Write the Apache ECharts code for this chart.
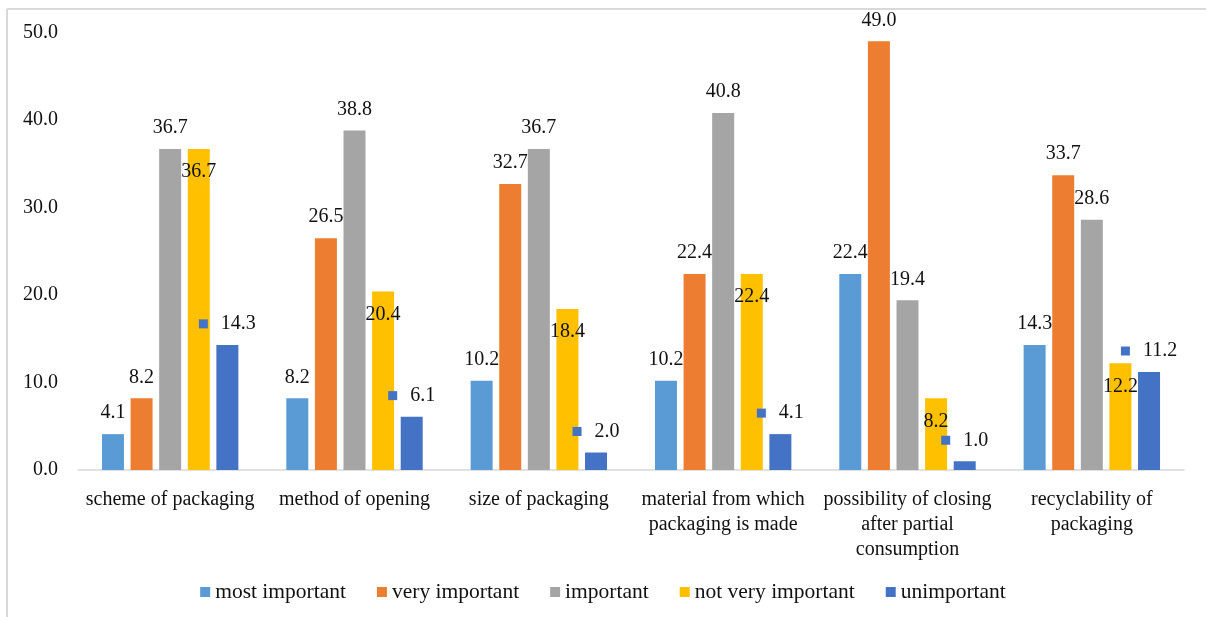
<!DOCTYPE html>
<html>
<head>
<meta charset="utf-8">
<script src="https://cdn.jsdelivr.net/npm/echarts@6/dist/echarts.min.js"></script>
<style>
  html, body { margin: 0; padding: 0; background: #fff; }
  #chart { width: 1206px; height: 617px; }
</style>
</head>
<body>
<div id="chart"></div>
<script>
// Packaging attributes rated by importance (% of respondents)
const categories = [
  'scheme of packaging',
  'method of opening',
  'size of packaging',
  'material from which\npackaging is made',
  'possibility of closing\nafter partial\nconsumption',
  'recyclability of\npackaging'
];
const seriesNames = ['most important', 'very important', 'important', 'not very important', 'unimportant'];
const mostImportant = [4.1, 8.2, 10.2, 10.2, 22.4, 14.3];
const veryImportant = [8.2, 26.5, 32.7, 22.4, 49.0, 33.7];
const important = [36.7, 38.8, 36.7, 40.8, 19.4, 28.6];
const notVeryImportant = [36.7, 20.4, 18.4, 22.4, 8.2, 12.2];
const unimportant = [14.3, 6.1, 2.0, 4.1, 1.0, 11.2];
const yTicks = { min: 0, max: 50, interval: 10 };

const colors = ['#5B9BD5', '#ED7D31', '#A5A5A5', '#FFC000', '#4472C4'];
const FONT = "'Liberation Serif', 'Times New Roman', serif";
const TXT = '#111';

function barSeries(name, values, color, label) {
  return {
    name: name,
    type: 'bar',
    data: values,
    barWidth: 22,
    barGap: '30%',
    itemStyle: { color: color },
    label: Object.assign({
      show: true,
      position: 'top',
      distance: 11,
      fontFamily: FONT,
      fontSize: 20,
      color: TXT,
      formatter: p => p.value.toFixed(1)
    }, label || {})
  };
}

const chart = echarts.init(document.getElementById('chart'), null, { renderer: 'canvas' });
chart.setOption({
  animation: false,
  backgroundColor: '#fff',
  color: colors,
  textStyle: { fontFamily: FONT },
  graphic: [
    { type: 'line', shape: { x1: 7, y1: 9, x2: 1206, y2: 9 }, style: { stroke: '#d9d9d9', lineWidth: 2 } },
    { type: 'line', shape: { x1: 7, y1: 9, x2: 7, y2: 617 }, style: { stroke: '#d9d9d9', lineWidth: 2 } }
  ],
  grid: { left: 78, right: 22, top: 32.5, bottom: 147, containLabel: false },
  legend: {
    data: seriesNames,
    left: 'center',
    top: 576,
    itemWidth: 10,
    itemHeight: 10,
    itemGap: 31,
    icon: 'rect',
    textStyle: { fontFamily: FONT, fontSize: 21.5, color: TXT }
  },
  xAxis: {
    type: 'category',
    data: categories,
    axisLine: { lineStyle: { color: '#d9d9d9', width: 1.5 } },
    axisTick: { show: false },
    axisLabel: {
      interval: 0,
      margin: 17,
      fontFamily: FONT,
      fontSize: 20,
      lineHeight: 25,
      color: TXT
    }
  },
  yAxis: {
    type: 'value',
    min: yTicks.min,
    max: yTicks.max,
    interval: yTicks.interval,
    axisLine: { show: false },
    axisTick: { show: false },
    splitLine: { show: false },
    axisLabel: {
      margin: 20,
      fontFamily: FONT,
      fontSize: 20,
      color: TXT,
      formatter: v => v.toFixed(1)
    }
  },
  series: [
    barSeries(seriesNames[0], mostImportant, colors[0]),
    barSeries(seriesNames[1], veryImportant, colors[1]),
    barSeries(seriesNames[2], important, colors[2]),
    barSeries(seriesNames[3], notVeryImportant, colors[3], { position: 'insideTop', distance: 13 }),
    barSeries(seriesNames[4], unimportant, colors[4], {
      formatter: p => '{m|}{v|' + p.value.toFixed(1) + '}',
      rich: {
        m: { width: 9, height: 9, backgroundColor: colors[4] },
        v: { fontFamily: FONT, fontSize: 20, color: TXT, padding: [0, 0, 0, 13] }
      }
    })
  ]
});
</script>
</body>
</html>
